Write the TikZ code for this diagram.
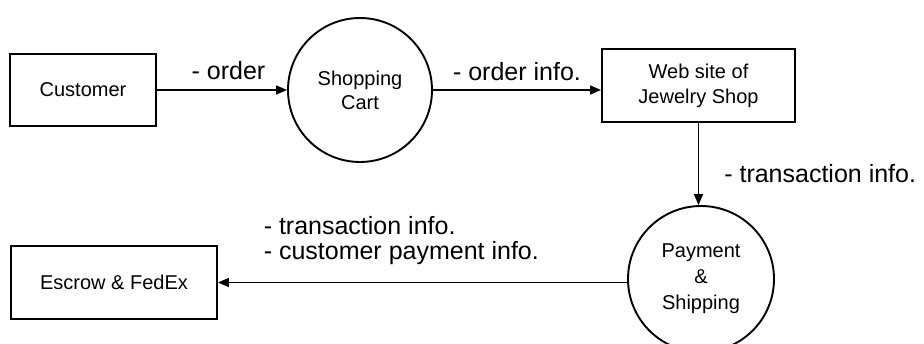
\documentclass[tikz,border=0pt]{standalone}
\usepackage{fontspec}
\setmainfont{Liberation Sans}
\usetikzlibrary{positioning,arrows.meta}

\tikzset{
  entity/.style={draw, line width=1.9pt, inner sep=0pt, align=center,
    font=\fontsize{20}{25}\selectfont},
  process/.style={draw, circle, line width=1.9pt, inner sep=0pt, align=center,
    font=\fontsize{20}{24}\selectfont},
  flow/.style={line width=1.6pt, -{Triangle[length=11pt,width=9pt]}},
  flowlabel/.style={font=\fontsize{25}{25}\selectfont, inner sep=0pt}
}

\begin{document}
\begin{tikzpicture}[x=1pt, y=-1pt]
  \useasboundingbox (0,0) rectangle (924,344);

  % entities and processes
  \node[entity, minimum width=146pt, minimum height=72pt] (customer) at (83,90) {Customer};
  \node[process, minimum size=144pt] (cart) at (360,90) {Shopping\\Cart};
  \node[entity, minimum width=193pt, minimum height=73pt] (shop) at (698.5,85.5) {Web site of\\Jewelry Shop};
  \node[process, minimum size=146pt, font=\fontsize{20}{26}\selectfont] (pay) at (701,279) {Payment\\\&\\Shipping};
  \node[entity, minimum width=206pt, minimum height=73pt] (escrow) at (114,282.5) {Escrow \& FedEx};

  % data flows
  \draw[flow] (customer.east) -- (customer.east -| cart.west)
    node[flowlabel, pos=0.55, above=9pt] {- order};
  \draw[flow] (cart.east) -- (cart.east -| shop.west)
    node[flowlabel, midway, above=8pt] {- order info.};
  \draw[flow] (shop.south) -- (shop.south |- pay.north)
    node[flowlabel, pos=0.62, right=25pt] {- transaction info.};
  \draw[flow] (escrow.east -| pay.west) -- (escrow.east)
    node[flowlabel, pos=0.89, anchor=south west, yshift=17pt, align=left]
      {- transaction info.\\- customer payment info.};
\end{tikzpicture}
\end{document}
